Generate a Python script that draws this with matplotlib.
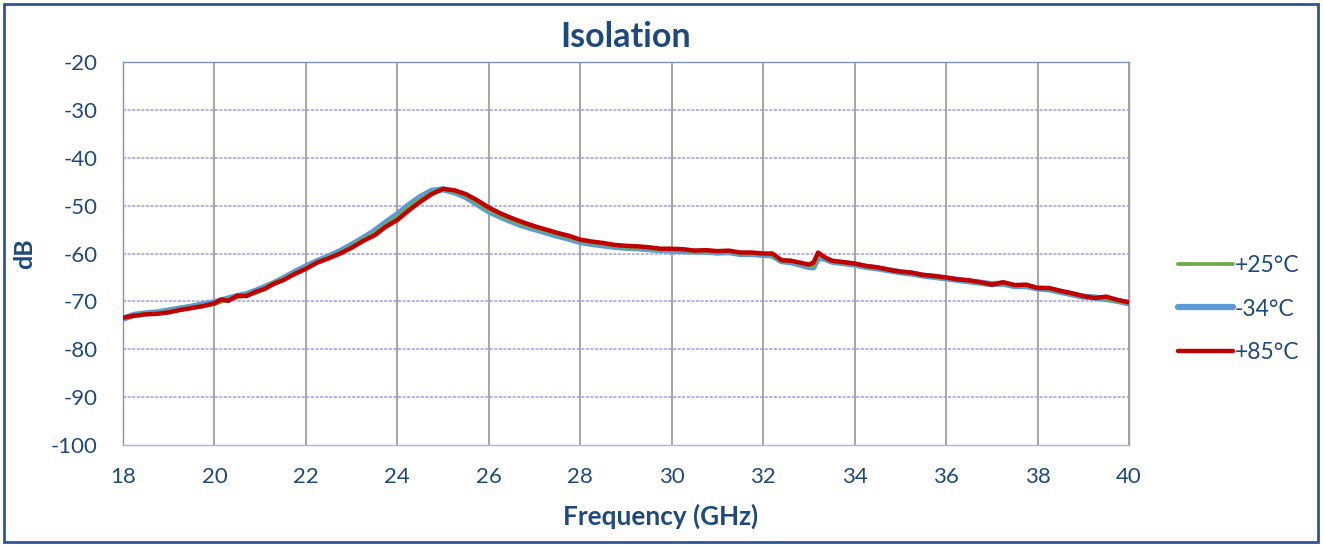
import matplotlib
matplotlib.use("Agg")
import matplotlib.pyplot as plt
from matplotlib.patches import Rectangle

freq = [18.0, 18.25, 18.5, 18.75, 19.0, 19.25, 19.5, 19.75, 20.0, 20.15, 20.3, 20.5, 20.7, 20.9,
        21.1, 21.3, 21.5, 21.75, 22.0, 22.25, 22.5, 22.75, 23.0, 23.25, 23.5, 23.75, 24.0, 24.25,
        24.5, 24.75, 25.0, 25.25, 25.5, 25.75, 26.0, 26.25, 26.5, 26.75, 27.0, 27.25, 27.5, 27.75,
        28.0, 28.25, 28.5, 28.75, 29.0, 29.25, 29.5, 29.75, 30.0, 30.25, 30.5, 30.75, 31.0, 31.25,
        31.5, 31.75, 32.0, 32.2, 32.4, 32.6, 32.8, 33.0, 33.1, 33.2, 33.35, 33.5, 33.75, 34.0,
        34.25, 34.5, 34.75, 35.0, 35.25, 35.5, 35.75, 36.0, 36.25, 36.5, 36.75, 37.0, 37.25, 37.5,
        37.75, 38.0, 38.25, 38.5, 38.75, 39.0, 39.25, 39.5, 39.75, 40.0]

iso_p85 = [-73.4, -73.0, -72.7, -72.6, -72.3, -71.8, -71.4, -71.0, -70.4, -69.6, -69.9, -68.8, -68.9, -68.0,
           -67.4, -66.3, -65.6, -64.3, -63.2, -61.9, -61.0, -60.0, -58.8, -57.4, -56.2, -54.4, -53.0, -51.0,
           -49.2, -47.6, -46.5, -46.8, -47.6, -48.9, -50.4, -51.6, -52.6, -53.5, -54.3, -55.0, -55.7, -56.3,
           -57.1, -57.5, -57.8, -58.2, -58.4, -58.5, -58.7, -59.0, -59.0, -59.1, -59.4, -59.3, -59.5, -59.4,
           -59.8, -59.8, -60.0, -60.0, -61.4, -61.5, -61.9, -62.3, -61.9, -59.8, -60.8, -61.5, -61.8, -62.1,
           -62.6, -62.9, -63.4, -63.8, -64.0, -64.5, -64.7, -65.0, -65.4, -65.6, -66.0, -66.5, -66.0, -66.6,
           -66.5, -67.2, -67.2, -67.8, -68.3, -68.9, -69.3, -69.0, -69.7, -70.2]

iso_m34 = [-73.6, -72.8, -72.5, -72.3, -71.9, -71.5, -71.1, -70.6, -70.2, -69.8, -69.4, -68.9, -68.5, -67.8,
           -67.0, -66.2, -65.2, -63.9, -62.7, -61.6, -60.6, -59.5, -58.2, -56.8, -55.3, -53.5, -51.8, -49.9,
           -48.2, -46.9, -46.6, -47.2, -48.2, -49.7, -51.2, -52.3, -53.3, -54.2, -54.9, -55.6, -56.3, -56.9,
           -57.6, -58.0, -58.3, -58.6, -58.8, -58.9, -59.1, -59.3, -59.4, -59.5, -59.6, -59.6, -59.8, -59.7,
           -60.1, -60.1, -60.3, -60.4, -61.6, -61.8, -62.3, -62.8, -62.9, -60.9, -61.1, -61.7, -62.0, -62.3,
           -62.8, -63.1, -63.5, -63.9, -64.2, -64.6, -64.9, -65.2, -65.5, -65.8, -66.1, -66.4, -66.3, -66.8,
           -66.8, -67.3, -67.5, -68.0, -68.5, -69.0, -69.2, -69.5, -69.9, -70.4]

iso_p25 = [-73.5, -72.9, -72.6, -72.5, -72.1, -71.7, -71.3, -70.9, -70.6, -70.0, -69.5, -69.2, -68.6, -68.3,
           -67.2, -66.0, -65.4, -64.2, -63.0, -61.8, -60.8, -59.8, -58.5, -57.1, -55.8, -54.0, -52.4, -50.4,
           -48.7, -47.3, -46.6, -47.0, -47.9, -49.3, -50.8, -52.0, -53.0, -53.9, -54.6, -55.3, -56.0, -56.6,
           -57.3, -57.7, -58.0, -58.4, -58.6, -58.7, -58.9, -59.1, -59.2, -59.3, -59.5, -59.4, -59.6, -59.6,
           -59.9, -59.9, -60.1, -60.2, -61.5, -61.6, -62.0, -62.5, -62.5, -60.3, -60.9, -61.6, -61.9, -62.2,
           -62.7, -63.0, -63.4, -63.8, -64.1, -64.5, -64.8, -65.1, -65.4, -65.7, -66.1, -66.4, -66.2, -66.7,
           -66.6, -67.2, -67.3, -67.9, -68.4, -68.9, -69.2, -69.4, -69.9, -70.1]

labels = ["+25°C", "-34°C", "+85°C"]
colors = ["#70AD47", "#5B9BD5", "#C00000"]
xticks = list(range(18, 41, 2))
yticks = list(range(-100, -19, 10))

txt = "#1F497D"
plt.rcParams['font.family'] = ['Lato', 'DejaVu Sans']
plt.rcParams['axes.unicode_minus'] = False

fig = plt.figure(figsize=(13.23, 5.46), dpi=100)
ax = fig.add_axes([123/1323, 1 - 445/546, (1129 - 123)/1323, (445 - 62)/546])

l_m34, = ax.plot(freq, iso_m34, color=colors[1], lw=4.5, solid_capstyle='round', zorder=3)
l_p25, = ax.plot(freq, iso_p25, color=colors[0], lw=2.8, solid_capstyle='round', zorder=4)
l_p85, = ax.plot(freq, iso_p85, color=colors[2], lw=3.2, solid_capstyle='round', zorder=5)

ax.set_xlim(18, 40)
ax.set_ylim(-100, -20)
ax.set_xticks(xticks)
ax.set_yticks(yticks)
ax.tick_params(length=0, labelsize=16, labelcolor=txt)
ax.tick_params(axis='x', pad=16)
ax.tick_params(axis='y', pad=18)

for y in yticks[1:-1]:
    ax.axhline(y, color="#9A9AF0", lw=1.1, ls=(0, (2, 1)), zorder=1)
for x in xticks[1:]:
    ax.axvline(x, color="#9E9E9E", lw=1.3, zorder=1)
for s in ax.spines.values():
    s.set_color("#9E9E9E")
    s.set_linewidth(1.0)
ax.spines['left'].set_color("#7F95B5")
ax.spines['top'].set_color("#7F95B5")
ax.spines['bottom'].set_color("#B0B0F0")

ax.set_title("Isolation", fontsize=24.5, fontweight='bold', color=txt, pad=11)
ax.set_xlabel("Frequency (GHz)", fontsize=18.8, fontweight='bold', color=txt, labelpad=12)
ax.xaxis.label.set_x((661 - 123) / 1006)
ax.set_ylabel("dB", fontsize=18, fontweight='bold', color=txt, labelpad=11)

fig.legend([l_p25, l_m34, l_p85], labels, loc='center left',
           bbox_to_anchor=(1157/1323, 1 - 309/546), frameon=False,
           fontsize=16.5, labelcolor=txt, handlelength=2.4, handletextpad=0.1,
           labelspacing=1.0)

fig.patches.append(Rectangle((4/1323, 4/546), 1314/1323, 538/546, transform=fig.transFigure,
                             fill=False, edgecolor="#2F5597", lw=2.0))

fig.savefig("out.png", dpi=100)
